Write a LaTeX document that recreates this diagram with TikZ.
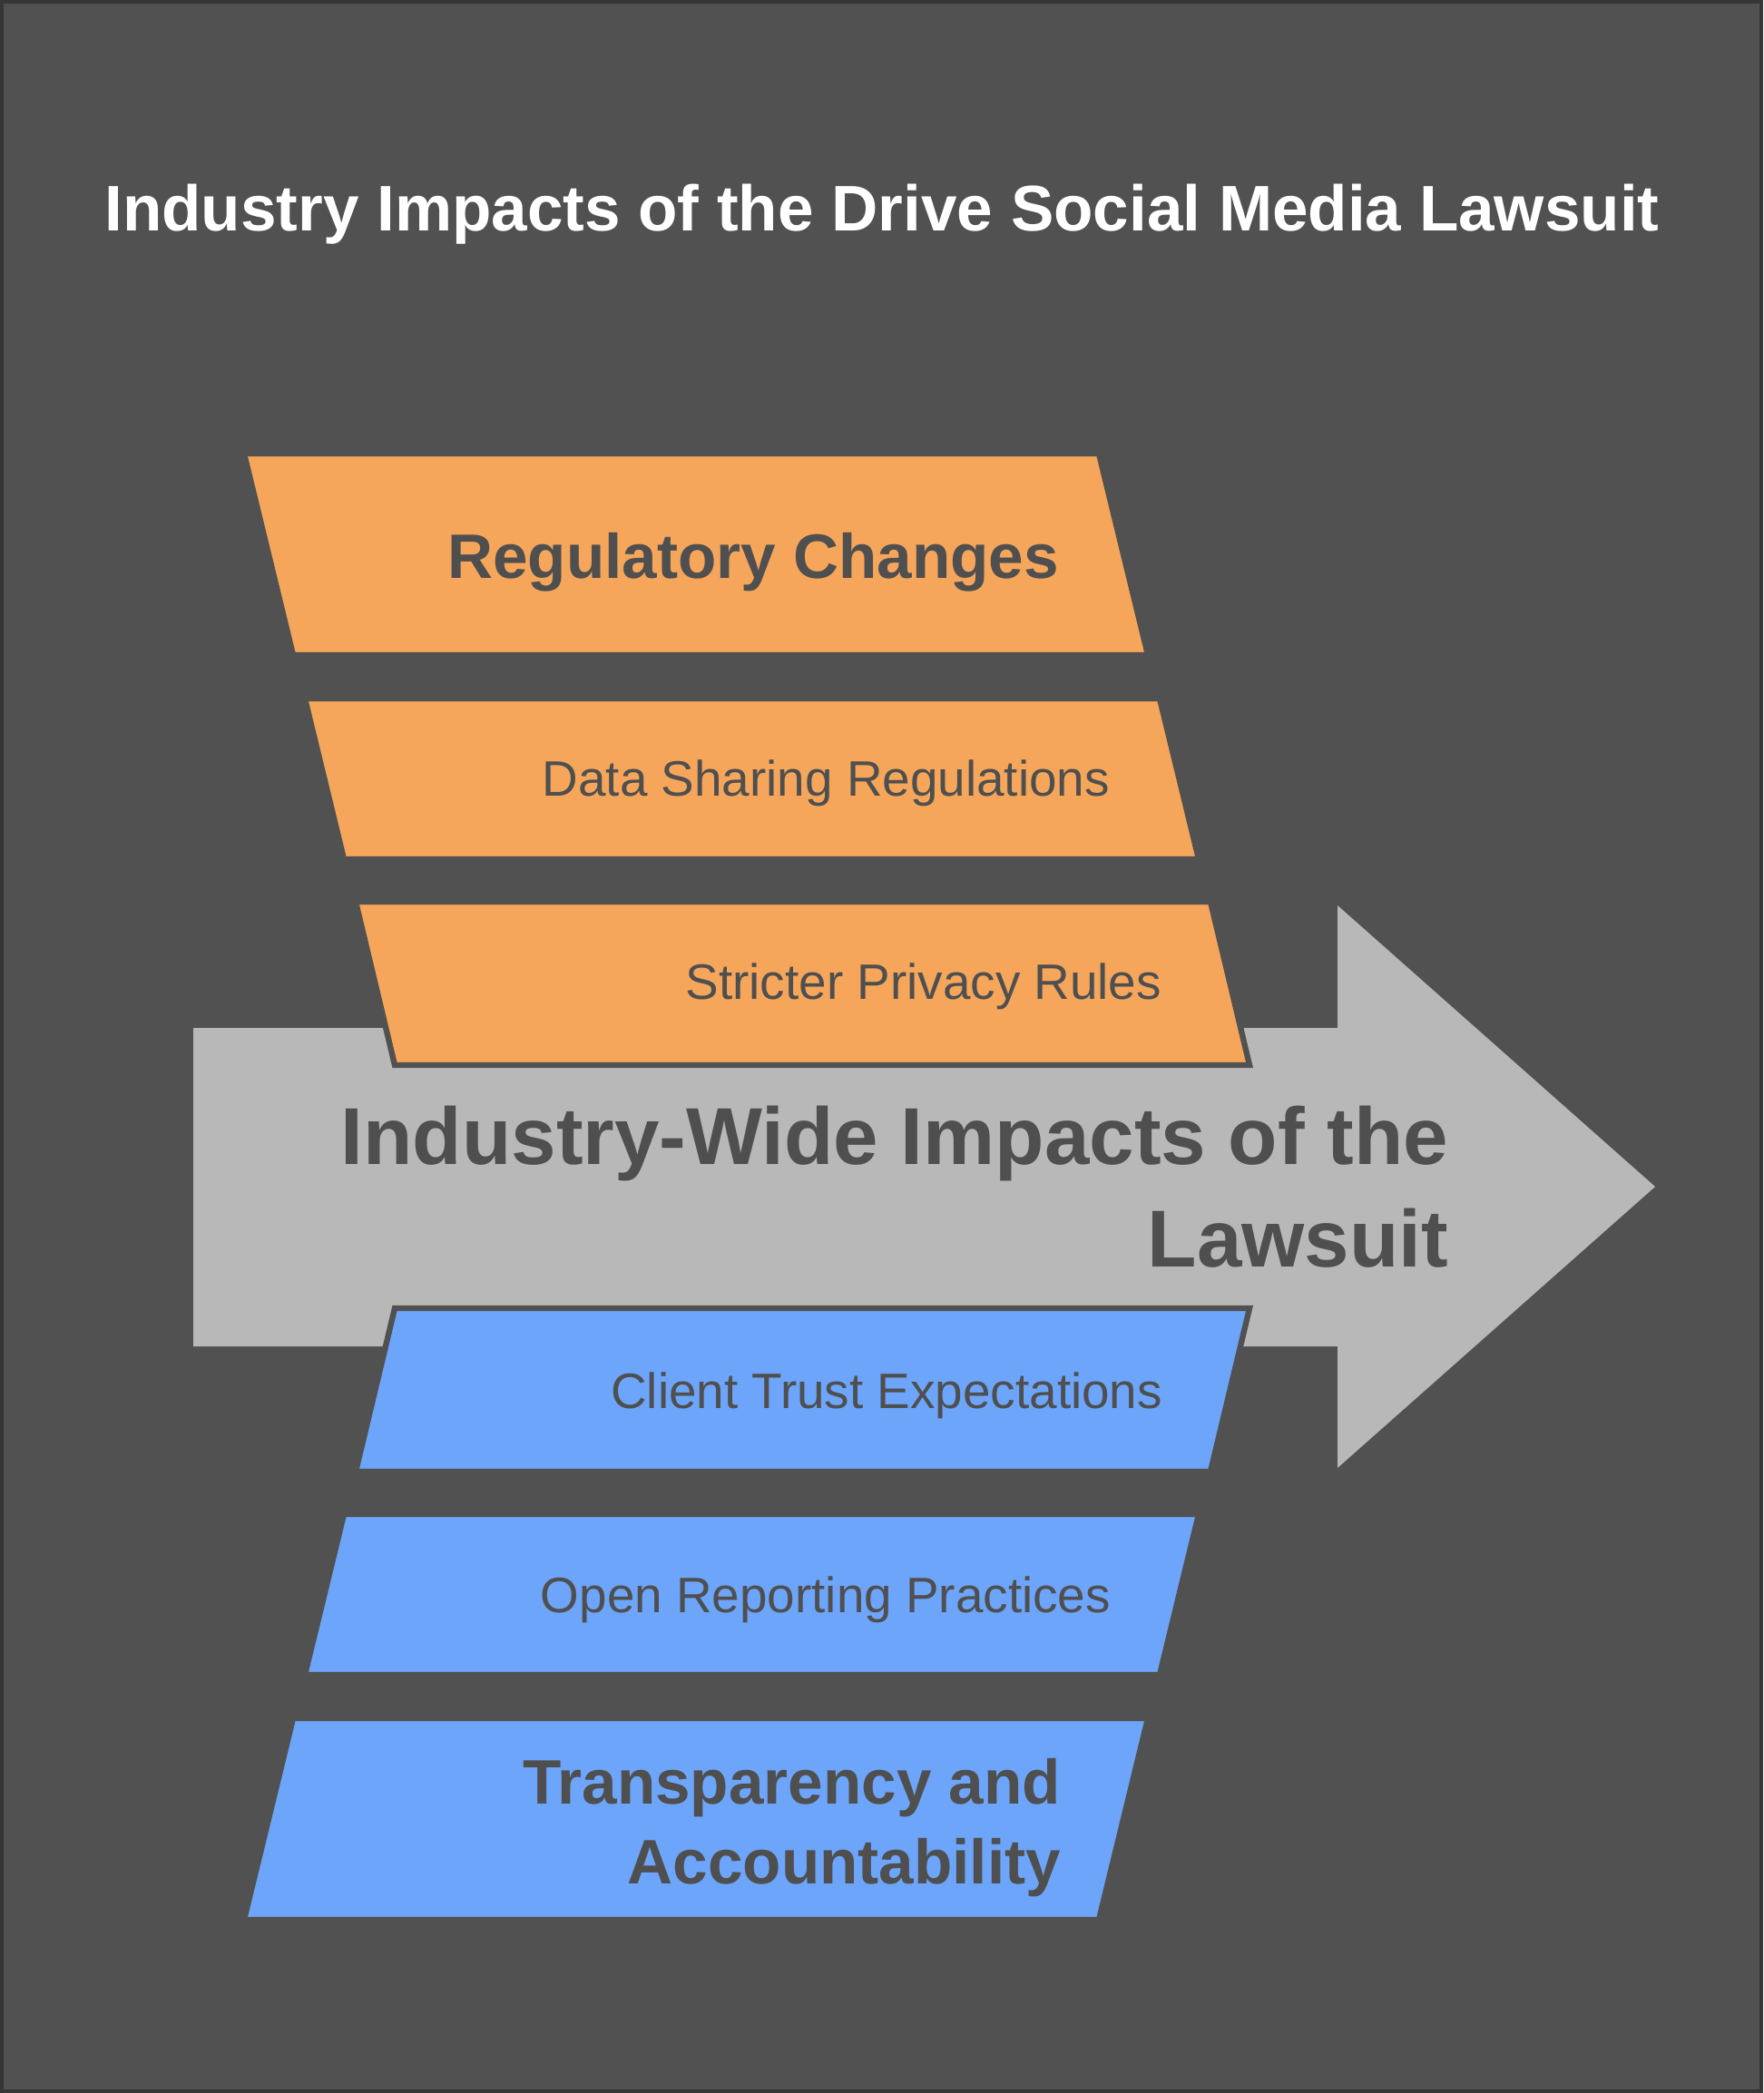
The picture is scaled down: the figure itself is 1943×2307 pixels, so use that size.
\documentclass[tikz,border=0pt]{standalone}
\usepackage{fontspec}
\setmainfont{Liberation Sans}

\definecolor{bgdark}{HTML}{515151}
\definecolor{bgedge}{HTML}{363636}
\definecolor{impactorange}{HTML}{F5A65B}
\definecolor{impactblue}{HTML}{6DA5FA}
\definecolor{arrowgrey}{HTML}{B8B8B8}
\definecolor{labelgrey}{HTML}{4F4F4F}

\begin{document}
\begin{tikzpicture}[
    x=0.01cm, y=-0.01cm,
    every node/.style={inner sep=0pt, outer sep=0pt},
    panel/.style={draw=bgdark, line width=1.8pt, line join=miter},
    orangepanel/.style={panel, fill=impactorange},
    bluepanel/.style={panel, fill=impactblue},
    plainlabel/.style={anchor=base east, text=labelgrey, font=\fontsize{15.6}{19}\selectfont},
    boldlabel/.style={anchor=east, align=right, text=labelgrey, font=\bfseries\fontsize{19.7}{25}\selectfont},
    biglabel/.style={anchor=east, align=right, text=labelgrey, font=\bfseries\fontsize{25.3}{32}\selectfont},
    headline/.style={anchor=base, text=white, font=\bfseries\fontsize{20.2}{24}\selectfont}
    ]

% Background
\useasboundingbox (0,0) rectangle (1943,2307);
\fill[bgdark] (0,0) rectangle (1943,2307);
\draw[bgedge, line width=1.2pt] (2,2) rectangle (1941,2305);

% Title
\node[headline] (title) at (972,255) {Industry Impacts of the Drive Social Media Lawsuit};

% Central arrow
\fill[arrowgrey] (213,1133) -- (1474,1133) -- (1474,998) -- (1824,1308)
    -- (1474,1618) -- (1474,1484) -- (213,1484) -- cycle;
\node[biglabel] (center) at (1596,1308) {Industry-Wide Impacts of the\\Lawsuit};

% Regulatory side (orange)
\draw[orangepanel] (269,500) -- (1211,500) -- (1265,722) -- (323,722) -- cycle;
\node[boldlabel, anchor=base east] (regulatory) at (1167,638) {Regulatory Changes};

\draw[orangepanel] (336,770) -- (1278,770) -- (1321,947) -- (379,947) -- cycle;
\node[plainlabel] (datasharing) at (1223,877) {Data Sharing Regulations};

\draw[orangepanel] (392,994) -- (1334,994) -- (1377,1174) -- (435,1174) -- cycle;
\node[plainlabel] (privacy) at (1280,1101) {Stricter Privacy Rules};

% Transparency side (blue)
\draw[bluepanel] (435,1442) -- (1377,1442) -- (1334,1622) -- (392,1622) -- cycle;
\node[plainlabel] (trust) at (1281,1552) {Client Trust Expectations};

\draw[bluepanel] (379,1669) -- (1321,1669) -- (1278,1846) -- (336,1846) -- cycle;
\node[plainlabel] (reporting) at (1224,1777) {Open Reporting Practices};

\draw[bluepanel] (323,1894) -- (1265,1894) -- (1211,2116) -- (269,2116) -- cycle;
\node[boldlabel] (transparency) at (1169,2015) {Transparency and\\Accountability};

\end{tikzpicture}
\end{document}
